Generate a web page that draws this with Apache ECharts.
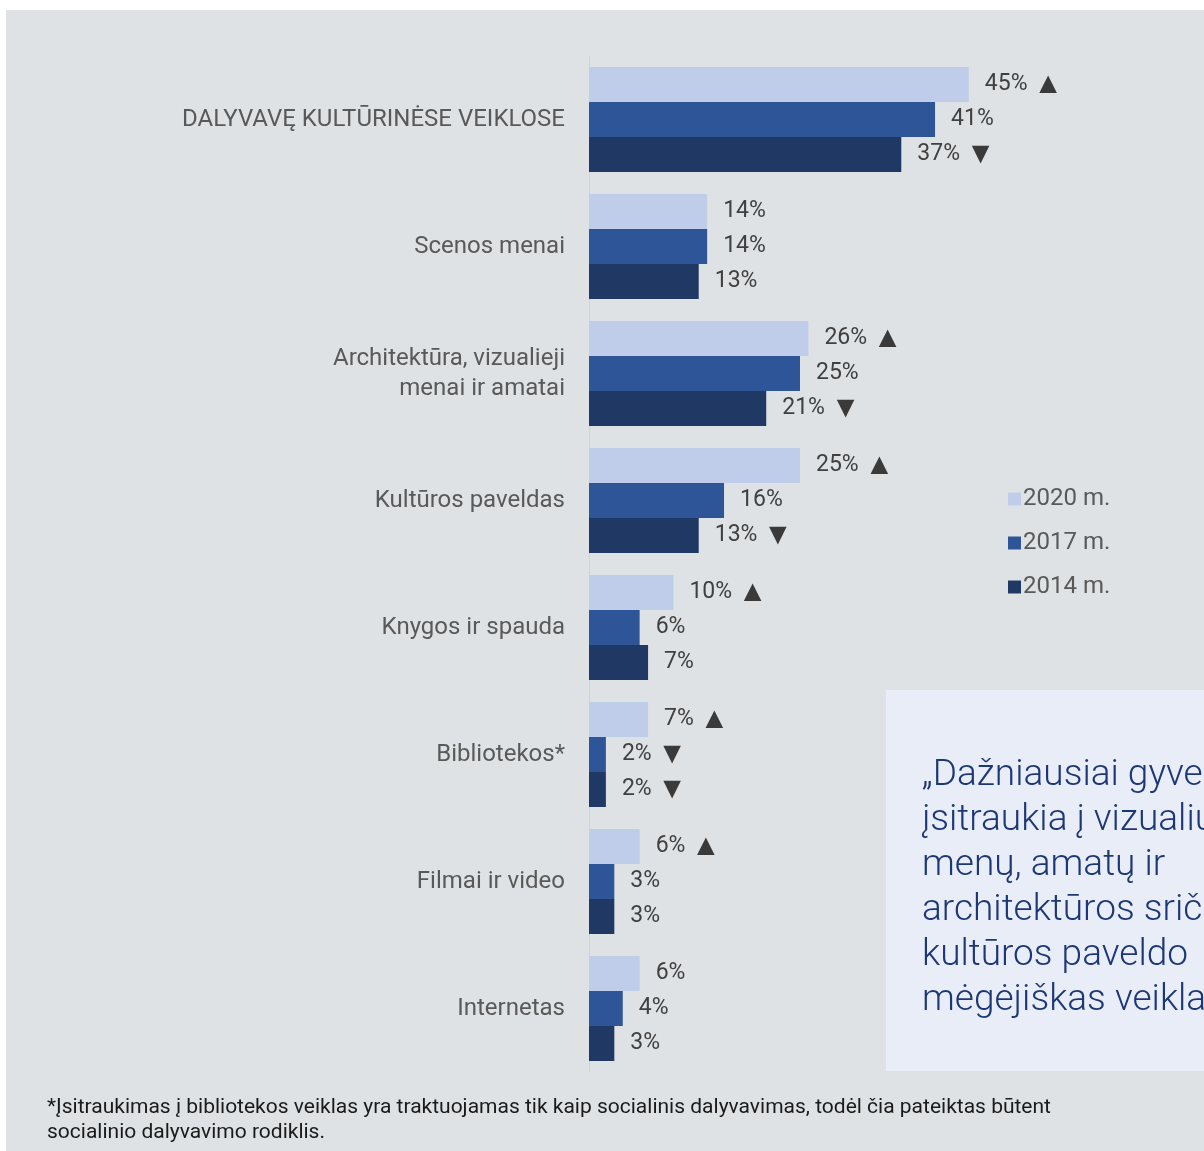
<!DOCTYPE html>
<html>
<head>
<meta charset="utf-8">
<script src="https://cdn.jsdelivr.net/npm/echarts@6/dist/echarts.min.js"></script>
<style>
    html, body { margin: 0; padding: 0; background: #ffffff; }
    #chart { width: 1204px; height: 1151px; }
</style>
</head>
<body>
<div id="chart"></div>
<script>
// categories, top to bottom
const categories = [
    'DALYVAVĘ KULTŪRINĖSE VEIKLOSE',
    'Scenos menai',
    'Architektūra, vizualieji\nmenai ir amatai',
    'Kultūros paveldas',
    'Knygos ir spauda',
    'Bibliotekos*',
    'Filmai ir video',
    'Internetas'
];
const years = ['2020 m.', '2017 m.', '2014 m.'];
const values2020 = [45, 14, 26, 25, 10, 7, 6, 6];
const values2017 = [41, 14, 25, 16, 6, 2, 3, 4];
const values2014 = [37, 13, 21, 13, 7, 2, 3, 3];
// change markers next to the labels: 1 = up, -1 = down, 0 = none
const trend2020 = [1, 0, 1, 1, 1, 1, 1, 0];
const trend2017 = [0, 0, 0, 0, 0, -1, 0, 0];
const trend2014 = [-1, 0, -1, -1, 0, -1, 0, 0];
const colors = ['#bfcdeb', '#2e5597', '#203864'];

const calloutLines = [
    '„Dažniausiai gyventojai',
    'įsitraukia į vizualiųjų',
    'menų, amatų ir',
    'architektūros sričių bei',
    'kultūros paveldo',
    'mėgėjiškas veiklas'
];
const footnote = '*Įsitraukimas į bibliotekos veiklas yra traktuojamas tik kaip socialinis dalyvavimas, todėl čia pateiktas būtent\nsocialinio dalyvavimo rodiklis.';

const FONT = 'Roboto, "Noto Sans", sans-serif';

function bar_item(name, data, trend, color) {
    return {
        type: 'bar',
        name: name,
        data: data,
        itemStyle: {color: color},
        barGap: '0%',
        barCategoryGap: '17.3%',
        label: {
            show: true,
            position: 'right',
            distance: 16,
            fontFamily: FONT,
            fontSize: 23,
            color: '#404040',
            formatter: function (p) {
                const t = trend[p.dataIndex];
                return p.value + '%' + (t > 0 ? ' {arr|▲}' : t < 0 ? ' {arr|▼}' : '');
            },
            rich: {
                arr: {fontSize: 30, color: '#3a3a3a', fontFamily: FONT, padding: [2, 0, 0, 0]}
            }
        }
    };
}

const chart = echarts.init(document.getElementById('chart'));
chart.setOption({
    backgroundColor: '#ffffff',
    animation: false,
    textStyle: {fontFamily: FONT},
    grid: {left: 589, top: 56, width: 422, height: 1016, containLabel: false},
    legend: {
        orient: 'vertical',
        left: 1003,
        top: 482,
        itemWidth: 13,
        itemHeight: 13,
        itemGap: 20,
        icon: 'rect',
        textStyle: {fontFamily: FONT, fontSize: 24, color: '#595959', padding: [0, 0, 0, -3]},
        data: years
    },
    xAxis: {
        type: 'value',
        min: 0,
        max: 50,
        show: false
    },
    yAxis: {
        type: 'category',
        data: categories,
        inverse: true,
        axisTick: {show: false},
        axisLine: {show: true, lineStyle: {color: '#cfd2d6', width: 1}},
        axisLabel: {
            margin: 24,
            fontFamily: FONT,
            fontSize: 24,
            lineHeight: 30,
            color: '#595959',
            align: 'right'
        }
    },
    series: [
        bar_item(years[0], values2020, trend2020, colors[0]),
        bar_item(years[1], values2017, trend2017, colors[1]),
        bar_item(years[2], values2014, trend2014, colors[2])
    ],
    graphic: [
        {
            type: 'rect',
            z: -10,
            silent: true,
            shape: {x: 6, y: 10, width: 1198, height: 1141},
            style: {fill: '#dfe2e5'}
        },
        {
            type: 'rect',
            z: -5,
            silent: true,
            shape: {x: 886, y: 690, width: 330, height: 381},
            style: {fill: '#e9edf7'}
        },
        {
            type: 'text',
            z: 5,
            silent: true,
            left: 922,
            top: 753,
            style: {
                text: calloutLines.join('\n'),
                fontFamily: FONT,
                fontWeight: 300,
                fontSize: 37,
                lineHeight: 45,
                fill: '#1c3775'
            }
        },
        {
            type: 'text',
            silent: true,
            left: 47,
            top: 1095,
            style: {
                text: footnote,
                fontFamily: FONT,
                fontSize: 21,
                lineHeight: 25,
                fill: '#1a1a1a'
            }
        }
    ]
});
</script>
</body>
</html>
